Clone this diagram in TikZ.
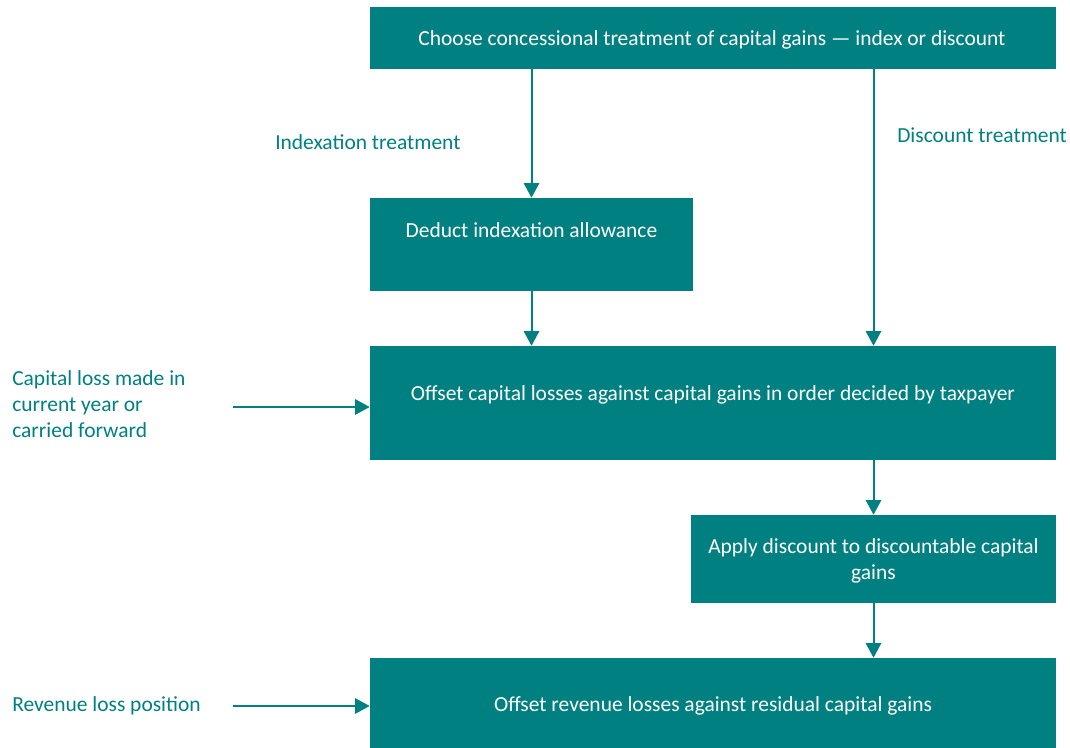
\documentclass[tikz,border=0pt]{standalone}
\usepackage{fontspec}
\setmainfont{Carlito}
\usetikzlibrary{arrows.meta}
\definecolor{tealc}{RGB}{0,128,128}
\tikzset{
  box/.style={fill=tealc, inner sep=0pt, draw=none},
  boxtext/.style={text=white, inner sep=0pt, align=center},
  lbl/.style={text=tealc, inner sep=0pt, align=left},
  arr/.style={draw=tealc, line width=1.5pt, -{Triangle[width=11.5pt,length=11pt]}}
}
\begin{document}
\begin{tikzpicture}[x=0.75pt,y=-0.75pt, font=\fontsize{16.1}{19.5}\selectfont]
\useasboundingbox (0,0) rectangle (1070,748);
% boxes
\node[box, minimum width=514.5pt, minimum height=46.5pt] (top) at (713,38) {};
\node[boxtext] (toptext) at (712,40) {Choose concessional treatment of capital gains \textemdash\ index or discount};
\node[box, minimum width=242.25pt, minimum height=69.75pt] (deduct) at (531.5,244.5) {};
\node[boxtext] (deducttext) at (531.5,230) {Deduct indexation allowance};
\node[box, minimum width=514.5pt, minimum height=85.5pt] (off1) at (713,403) {};
\node[boxtext] (off1text) at (713,395) {Offset capital losses against capital gains in order decided by taxpayer};
\node[box, minimum width=273.75pt, minimum height=66pt] (apply) at (873.5,559) {};
\node[boxtext] (applytext) at (873.5,560.5) {Apply discount to discountable capital\\gains};
\node[box, minimum width=514.5pt, minimum height=69pt] (rev) at (713,704) {};
\node[boxtext] (revtext) at (713,706) {Offset revenue losses against residual capital gains};
% labels
\node[lbl, anchor=west] (lidx) at (275,142) {Indexation treatment};
\node[lbl, anchor=west] (ldis) at (897,135) {Discount treatment};
\node[lbl, anchor=west] (lcap) at (12,404) {Capital loss made in\\current year or\\carried forward};
\node[lbl, anchor=west] (lrev) at (12,706) {Revenue loss position};
% connectors
\coordinate (c1) at (233,407);
\coordinate (c2) at (233,706);
\draw[arr] (top.south -| deduct.north) -- (deduct.north);
\draw[arr] (top.south -| apply.north) -- (off1.north -| apply.north);
\draw[arr] (deduct.south) -- (off1.north -| deduct.south);
\draw[arr] (off1.south -| apply.north) -- (apply.north);
\draw[arr] (apply.south) -- (rev.north -| apply.south);
\draw[arr] (c1) -- (off1.west |- c1);
\draw[arr] (c2) -- (rev.west |- c2);
\end{tikzpicture}
\end{document}
